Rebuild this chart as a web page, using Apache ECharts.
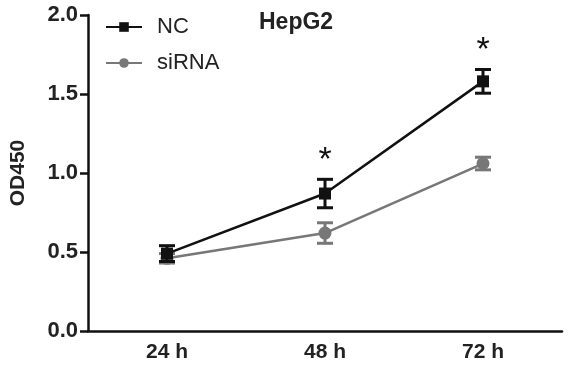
<!DOCTYPE html>
<html><head><meta charset="utf-8">
<script src="https://cdn.jsdelivr.net/npm/echarts@6/dist/echarts.min.js"></script>
<style>html,body{margin:0;padding:0;background:#fff}#c{width:568px;height:367px}</style>
</head><body><div id="c"></div>
<script>
const categories = ['24 h', '48 h', '72 h'];
const ncMean = [0.49, 0.87, 1.58];
const ncErr = [0.05, 0.09, 0.075];
const siMean = [0.46, 0.62, 1.06];
const siErr = [0.03, 0.065, 0.04];
const sigMarks = ['', '*', '*'];
const yTicks = [0, 0.5, 1.0, 1.5, 2.0];

const chart = echarts.init(document.getElementById('c'));
function errSeries(mean, err, color, z) {
  return {
    type: 'custom', z: z,
    data: mean.map((m, i) => [i, m - err[i], m + err[i]]),
    renderItem: function (params, api) {
      const x = api.value(0);
      const lo = api.coord([x, api.value(1)]);
      const hi = api.coord([x, api.value(2)]);
      const w = 8;
      const st = { stroke: color, lineWidth: 3 };
      return { type: 'group', children: [
        { type: 'line', shape: { x1: lo[0], y1: lo[1], x2: hi[0], y2: hi[1] }, style: st },
        { type: 'line', shape: { x1: lo[0] - w, y1: lo[1], x2: lo[0] + w, y2: lo[1] }, style: st },
        { type: 'line', shape: { x1: hi[0] - w, y1: hi[1], x2: hi[0] + w, y2: hi[1] }, style: st }
      ]};
    },
    silent: true, tooltip: { show: false }
  };
}
chart.setOption({
  animation: false,
  grid: { left: 88, right: 6, top: 15, bottom: 36, outerBoundsMode: 'none', containLabel: false },
  legend: {
    orient: 'vertical', left: 100, top: 11, itemWidth: 36, itemHeight: 12, itemGap: 14,
    textStyle: { fontSize: 22, color: '#222', fontFamily: 'Liberation Sans, Arial', padding: [0, 0, 0, 10] },
    data: ['NC', 'siRNA']
  },
  graphic: [{ type: 'text', left: 259, top: 11, style: { text: 'HepG2', font: 'bold 23px Liberation Sans, Arial', fill: '#222' } }],
  xAxis: {
    type: 'category', data: categories, boundaryGap: true,
    axisLine: { lineStyle: { color: '#111', width: 2.5 } },
    axisTick: { alignWithLabel: true, length: 8, lineStyle: { width: 2.5, color: '#111' } },
    axisLabel: { fontSize: 21, fontWeight: 'bold', color: '#222', margin: 11, fontFamily: 'Liberation Sans, Arial' }
  },
  yAxis: {
    type: 'value', min: 0, max: 2, interval: 0.5,
    name: 'OD450', nameLocation: 'middle', nameGap: 59, nameRotate: 90,
    nameTextStyle: { fontSize: 21, fontWeight: 'bold', color: '#222', fontFamily: 'Liberation Sans, Arial' },
    axisLine: { show: true, lineStyle: { color: '#111', width: 2.5 } },
    axisTick: { show: true, length: 8, lineStyle: { width: 2.5, color: '#111' } },
    splitLine: { show: false },
    axisLabel: { fontSize: 22, fontWeight: 'bold', color: '#222', margin: 10, fontFamily: 'Liberation Sans, Arial',
      formatter: v => v.toFixed(1) }
  },
  series: [
    errSeries(siMean, siErr, '#777', 3),
    { name: 'siRNA', type: 'line', data: siMean, symbol: 'circle', symbolSize: 13, z: 4,
      lineStyle: { color: '#777', width: 2.5 }, itemStyle: { color: '#777' } },
    errSeries(ncMean, ncErr, '#111', 5),
    { name: 'NC', type: 'line', data: ncMean, symbol: 'rect', symbolSize: 12, z: 6,
      lineStyle: { color: '#111', width: 2.5 }, itemStyle: { color: '#111' } },
    { type: 'custom', z: 7, silent: true,
      data: ncMean.map((m, i) => [i, m + ncErr[i], sigMarks[i]]),
      renderItem: function (params, api) {
        const p = api.coord([api.value(0), api.value(1)]);
        return { type: 'text', style: { text: sigMarks[params.dataIndex], x: p[0], y: p[1] - 2,
          font: '34px Liberation Sans, Arial', fill: '#111', align: 'center', verticalAlign: 'bottom' } };
      }
    }
  ]
});
</script></body></html>
